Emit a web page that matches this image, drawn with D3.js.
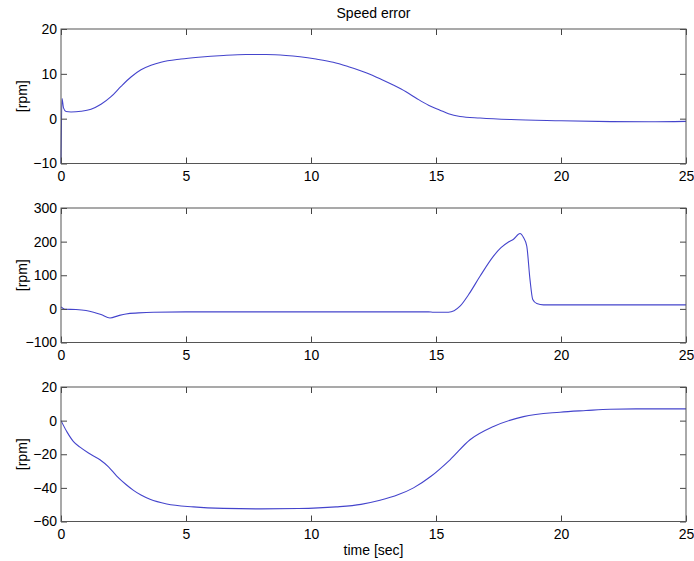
<!DOCTYPE html>
<html>
<head>
<meta charset="utf-8">
<script src="https://cdn.jsdelivr.net/npm/d3@7"></script>
<style>
  body { margin: 0; background: #fff; }
  svg { display: block; font-family: "Liberation Sans", Arial, sans-serif; }
</style>
</head>
<body>
<div id="chart"></div>
<script>
// speed error, three subplots
const t1 = [0, 0.04, 0.1, 0.2, 0.4, 0.8, 1.2, 1.6, 2.0, 2.4, 2.8, 3.2, 3.6, 4.0, 4.8, 5.5, 6.5, 7.4, 8.2, 9.0, 9.56, 10.2, 10.89, 11.5, 12.23, 12.8, 13.29, 13.8, 14.23, 14.7, 15.16, 15.5, 15.96, 16.76, 18, 20, 22, 23.5, 25];
const v1 = [-10, 4.5, 2.4, 1.6, 1.5, 1.65, 2.1, 3.2, 4.9, 7.2, 9.3, 10.9, 11.9, 12.6, 13.3, 13.7, 14.1, 14.3, 14.3, 14.1, 13.8, 13.3, 12.6, 11.6, 10.2, 8.8, 7.5, 6.0, 4.5, 3.0, 1.9, 1.1, 0.5, 0.15, -0.2, -0.45, -0.65, -0.7, -0.6];

const t2 = [0, 0.15, 0.6, 1.0, 1.3, 1.6, 1.96, 2.3, 2.6, 3.1, 3.7, 5, 14.7, 14.9, 15.5, 15.96, 16.3, 16.76, 17.3, 17.6, 17.9, 18.1, 18.36, 18.5, 18.63, 18.76, 18.87, 19.03, 19.3, 20, 25];
const v2 = [6, -1, -2, -5, -10, -17, -27, -20, -15, -12, -10, -9, -9, -10, -10, 8, 42, 97, 157, 182, 199, 207, 224, 212, 187, 87, 28, 16, 12, 12, 12];

const t3 = [0, 0.25, 0.5, 0.76, 1.1, 1.56, 1.9, 2.23, 2.6, 2.9, 3.2, 3.56, 4.23, 5.3, 6.5, 8, 9.5, 11, 12, 12.76, 13.5, 14.1, 14.8, 15.56, 16.36, 17.3, 18.5, 19.96, 21, 21.96, 23, 25];
const v3 = [0, -7, -12.5, -15.8, -19.3, -23.3, -27.5, -33, -38, -41.5, -44.3, -46.8, -49.6, -51.3, -52.2, -52.5, -52.3, -51.3, -49.8, -47.4, -44, -40, -33.1, -23.3, -11.4, -3.5, 2.4, 5, 6, 6.8, 7, 7];

const xTicks = [0, 5, 10, 15, 20, 25];
const yTicks1 = [-10, 0, 10, 20];
const yTicks2 = [-100, 0, 100, 200, 300];
const yTicks3 = [-60, -40, -20, 0, 20];

const panels = [
  {t: t1, v: v1, ticks: yTicks1, top: 29},
  {t: t2, v: v2, ticks: yTicks2, top: 208},
  {t: t3, v: v3, ticks: yTicks3, top: 387}
];

const width = 694, height = 561;
const left = 61, plotW = 625, plotH = 134.5;

const svg = d3.select("#chart").append("svg")
    .attr("width", width)
    .attr("height", height);

const x = d3.scaleLinear().domain([0, 25]).range([0, plotW]);

panels.forEach(p => {
    const y = d3.scaleLinear().domain(d3.extent(p.ticks)).range([plotH, 0]);
    const g = svg.append("g").attr("transform", `translate(${left},${p.top})`);

    const line = d3.line()
        .x((d, i) => x(p.t[i]))
        .y(d => y(d))
        .curve(d3.curveMonotoneX);

    g.append("path")
        .datum(p.v)
        .attr("fill", "none")
        .attr("stroke", "#4444cc")
        .attr("stroke-width", 1.1)
        .attr("d", line);

    // inward ticks on all four sides, labels only left and bottom
    const bottom = g.append("g")
        .attr("transform", `translate(0,${plotH})`)
        .call(d3.axisBottom(x).tickValues(xTicks).tickSize(-6).tickPadding(8).tickFormat(d3.format("d")));
    const topAx = g.append("g")
        .call(d3.axisTop(x).tickValues(xTicks).tickSize(-6).tickFormat(""));
    const leftAx = g.append("g")
        .call(d3.axisLeft(y).tickValues(p.ticks).tickSize(-6).tickPadding(4).tickFormat(d3.format("d")));
    const rightAx = g.append("g")
        .attr("transform", `translate(${plotW},0)`)
        .call(d3.axisRight(y).tickValues(p.ticks).tickSize(-6).tickFormat(""));

    [bottom, topAx, leftAx, rightAx].forEach(a => {
        a.select(".domain").remove();
        a.selectAll(".tick line").attr("stroke", "#444");
        a.selectAll("text").attr("font-size", 14).attr("fill", "#000")
            .attr("font-family", "'Liberation Sans', Arial, sans-serif");
    });

    g.append("rect")
        .attr("width", plotW)
        .attr("height", plotH)
        .attr("fill", "none")
        .attr("stroke", "#555")
        .attr("stroke-width", 1);

    g.append("text")
        .attr("transform", `translate(-34,${plotH / 2}) rotate(-90)`)
        .attr("text-anchor", "middle")
        .attr("font-size", 14)
        .text("[rpm]");
});

svg.append("text")
    .attr("x", left + plotW / 2)
    .attr("y", 18)
    .attr("text-anchor", "middle")
    .attr("font-size", 14)
    .text("Speed error");

svg.append("text")
    .attr("x", left + plotW / 2)
    .attr("y", 555)
    .attr("text-anchor", "middle")
    .attr("font-size", 14)
    .text("time [sec]");
</script>
</body>
</html>
